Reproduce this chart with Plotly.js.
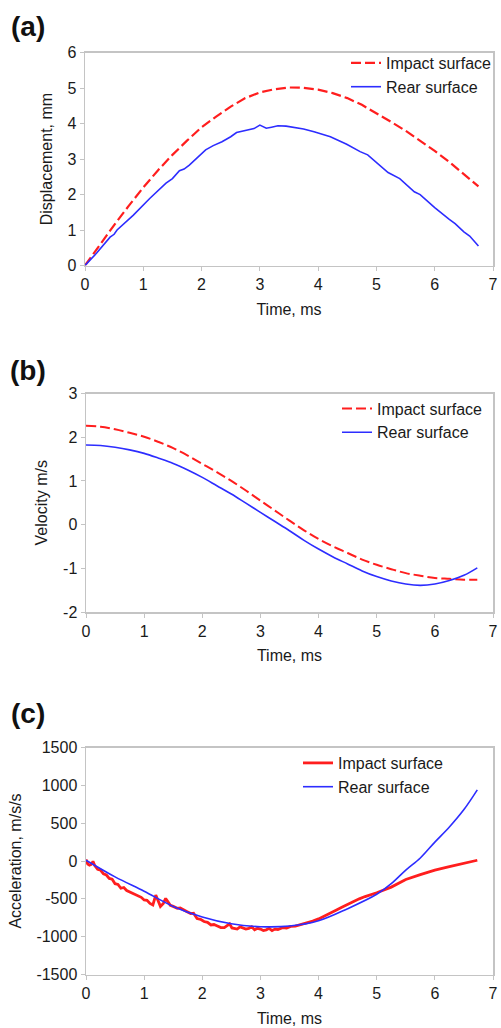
<!DOCTYPE html>
<html>
<head>
<meta charset="utf-8">
<script src="https://cdn.plot.ly/plotly-3.0.1.min.js"></script>
<style>html,body{margin:0;padding:0;background:#fff;}#chart{width:501px;height:1028px;}</style>
</head>
<body>
<div id="chart"></div>
<script>
// ---- Panel (a): displacement, mm ----
const tDispImpact = [0,0.25,0.5,0.75,1,1.25,1.5,1.75,2,2.25,2.5,2.75,3,3.25,3.5,3.75,4,4.25,4.5,4.75,5,5.25,5.5,5.75,6,6.25,6.5,6.75];
const dispImpact  = [0,0.58,1.14,1.68,2.2,2.68,3.12,3.52,3.9,4.2,4.48,4.72,4.88,4.97,5.02,5.01,4.96,4.86,4.72,4.53,4.3,4.05,3.8,3.52,3.23,2.92,2.58,2.23];
const tDispRear = [0,0.2,0.43,0.5,0.55,0.83,1.11,1.39,1.5,1.62,1.7,1.79,2.07,2.2,2.35,2.5,2.6,2.8,2.9,3.0,3.11,3.2,3.31,3.45,3.59,3.75,3.93,4.21,4.49,4.72,4.85,5.0,5.2,5.4,5.5,5.65,5.75,6.0,6.25,6.35,6.5,6.6,6.75];
const dispRear  = [0,0.35,0.8,0.88,1.0,1.42,1.89,2.32,2.45,2.67,2.72,2.83,3.26,3.38,3.49,3.63,3.75,3.82,3.86,3.96,3.87,3.9,3.94,3.93,3.9,3.85,3.77,3.63,3.42,3.21,3.12,2.9,2.62,2.45,2.3,2.08,2.0,1.63,1.3,1.18,0.95,0.83,0.55];

// ---- Panel (b): velocity, m/s ----
const tVel = [0,0.25,0.5,0.75,1,1.25,1.5,1.75,2,2.25,2.5,2.75,3,3.25,3.5,3.75,4,4.25,4.5,4.75,5,5.25,5.5,5.75,6,6.25,6.5,6.73];
const velImpact = [2.26,2.24,2.18,2.1,2.01,1.89,1.75,1.58,1.39,1.2,1.0,0.78,0.55,0.32,0.09,-0.13,-0.33,-0.5,-0.65,-0.8,-0.92,-1.02,-1.11,-1.17,-1.22,-1.24,-1.26,-1.26];
const velRear   = [1.82,1.81,1.77,1.71,1.63,1.52,1.4,1.25,1.08,0.89,0.7,0.49,0.28,0.07,-0.14,-0.36,-0.56,-0.74,-0.9,-1.06,-1.19,-1.29,-1.36,-1.39,-1.36,-1.28,-1.16,-0.99];

// ---- Panel (c): acceleration, m/s/s ----
const tAccImpact = [0,0.03,0.06,0.09,0.12,0.15,0.2,0.25,0.3,0.35,0.4,0.45,0.5,0.55,0.6,0.65,0.7,0.75,0.8,0.85,0.9,0.95,1.0,1.05,1.1,1.15,1.2,1.24,1.28,1.33,1.37,1.41,1.45,1.5,1.57,1.62,1.68,1.74,1.8,1.85,1.91,1.97,2.03,2.09,2.15,2.2,2.26,2.32,2.38,2.43,2.47,2.51,2.56,2.6,2.65,2.7,2.75,2.8,2.85,2.9,2.95,3.0,3.05,3.1,3.15,3.2,3.25,3.3,3.38,3.45,3.52,3.6,3.7,3.8,3.9,4.0,4.1,4.2,4.3,4.4,4.5,4.6,4.7,4.8,4.9,5.0,5.25,5.5,5.75,6.0,6.25,6.5,6.73];
const accImpact  = [20,-40,-55,-45,-5,-60,-110,-120,-170,-185,-230,-240,-300,-310,-360,-350,-390,-410,-420,-450,-470,-480,-515,-520,-560,-580,-450,-540,-600,-560,-495,-540,-585,-600,-625,-620,-650,-670,-695,-690,-760,-770,-800,-810,-845,-840,-860,-880,-880,-850,-830,-885,-895,-900,-870,-880,-900,-890,-870,-910,-890,-900,-920,-910,-890,-920,-900,-905,-880,-885,-865,-860,-840,-820,-795,-765,-730,-690,-650,-610,-570,-535,-500,-470,-445,-420,-345,-245,-180,-120,-75,-35,10];
const tAccRear = [0,0.5,1,1.5,2,2.5,3,3.5,4,4.5,5,5.25,5.5,5.75,6,6.25,6.5,6.73];
const accRear  = [10,-210,-400,-600,-740,-830,-868,-860,-790,-630,-440,-300,-120,40,250,450,680,940];

// ---- tick labels (hyphen minus as in the original) ----
const yTicksA = [0,1,2,3,4,5,6];
const yTicksB = [-2,-1,0,1,2,3];
const yTicksC = [-1500,-1000,-500,0,500,1000,1500];

const seriesNames = ['Impact surface', 'Rear surface'];
const panelLabels = ['(a)', '(b)', '(c)'];
const yTitles = ['Displacement, mm', 'Velocity m/s', 'Acceleration, m/s/s'];
const xTitle = 'Time, ms';

const RED = 'rgb(255,30,30)';
const BLUE = 'rgb(45,45,255)';
const FONT = 'Liberation Sans, Arial, sans-serif';
const W = 501, H = 1028;

const traces = [
  {x: tDispImpact, y: dispImpact, name: seriesNames[0], xaxis: 'x', yaxis: 'y', legend: 'legend', mode: 'lines', line: {color: RED, width: 2.2, dash: '10px,4px'}},
  {x: tDispRear, y: dispRear, name: seriesNames[1], xaxis: 'x', yaxis: 'y', legend: 'legend', mode: 'lines', line: {color: BLUE, width: 1.6}},
  {x: tVel, y: velImpact, name: seriesNames[0], xaxis: 'x2', yaxis: 'y2', legend: 'legend2', mode: 'lines', line: {color: RED, width: 2.0, dash: '10px,4px', shape: 'spline'}},
  {x: tVel, y: velRear, name: seriesNames[1], xaxis: 'x2', yaxis: 'y2', legend: 'legend2', mode: 'lines', line: {color: BLUE, width: 1.6, shape: 'spline'}},
  {x: tAccImpact, y: accImpact, name: seriesNames[0], xaxis: 'x3', yaxis: 'y3', legend: 'legend3', mode: 'lines', line: {color: RED, width: 2.8}},
  {x: tAccRear, y: accRear, name: seriesNames[1], xaxis: 'x3', yaxis: 'y3', legend: 'legend3', mode: 'lines', line: {color: BLUE, width: 1.6, shape: 'spline'}}
];

const tickFont = {family: FONT, size: 16, color: '#1a1a1a'};
const titleFont = {family: FONT, size: 16, color: '#1a1a1a'};
function xax(l, r, anchor) {
  return {domain: [l / W, r / W], anchor: anchor, range: [0, 7], dtick: 1, tick0: 0,
    showgrid: false, zeroline: false, showline: true, mirror: true, linecolor: '#c4c4c4', linewidth: 1.5,
    ticks: 'outside', ticklen: 4, tickcolor: '#c4c4c4', tickfont: tickFont,
    title: {text: xTitle, font: titleFont, standoff: 11}, fixedrange: true};
}
function yax(top, bot, anchor, range, vals, title) {
  return {domain: [1 - bot / H, 1 - top / H], anchor: anchor, range: range,
    tickmode: 'array', tickvals: vals, ticktext: vals.map(v => String(v)),
    showgrid: false, zeroline: false, showline: true, mirror: true, linecolor: '#c4c4c4', linewidth: 1.5,
    ticks: 'outside', ticklen: 4, tickcolor: '#c4c4c4', tickfont: tickFont,
    title: {text: title, font: titleFont, standoff: 11}, fixedrange: true};
}
function leg(xpx, ypx) {
  return {x: xpx / W, y: 1 - ypx / H, xanchor: 'left', yanchor: 'top', bgcolor: 'rgba(0,0,0,0)',
    borderwidth: 0, font: {family: FONT, size: 16, color: '#1a1a1a'}, itemclick: false, itemdoubleclick: false};
}

const layout = {
  width: W, height: H, margin: {l: 0, r: 0, t: 0, b: 0},
  paper_bgcolor: '#fff', plot_bgcolor: '#fff', showlegend: true,
  xaxis: xax(85, 493, 'y'),
  yaxis: yax(52.7, 265.5, 'x', [0, 6], yTicksA, yTitles[0]),
  xaxis2: xax(86, 493, 'y2'),
  yaxis2: yax(393.5, 612, 'x2', [-2, 3], yTicksB, yTitles[1]),
  xaxis3: xax(86, 493, 'y3'),
  yaxis3: yax(747.5, 974.5, 'x3', [-1500, 1500], yTicksC, yTitles[2]),
  legend: leg(346, 46),
  legend2: leg(337, 391.5),
  legend3: leg(298, 746),
  annotations: panelLabels.map((t, i) => ({
    text: '<b>' + t + '</b>', xref: 'paper', yref: 'paper', showarrow: false,
    x: 27.5 / W, y: 1 - [26.5, 370.5, 713][i] / H, xanchor: 'center', yanchor: 'middle',
    font: {family: FONT, size: 28, color: '#111'}
  }))
};

Plotly.newPlot('chart', traces, layout, {displayModeBar: false, staticPlot: true});
</script>
</body>
</html>
